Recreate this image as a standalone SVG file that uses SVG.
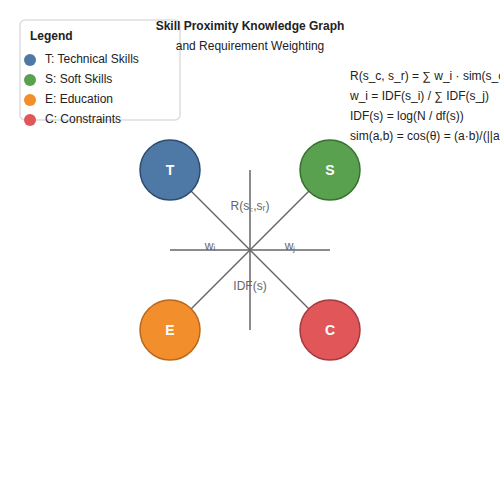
<svg xmlns="http://www.w3.org/2000/svg" width="500" height="500" viewBox="0 0 500 500">
<style>
text{font-family:"Liberation Sans",Arial,sans-serif;font-size:12px;fill:#222}
.t{font-weight:bold}
.lbl{fill:#666;text-anchor:middle}
.edge{stroke:#666;stroke-width:1.5;fill:none}
.nl{fill:#fff;font-weight:bold;font-size:14px;text-anchor:middle}
</style>
<rect width="500" height="500" fill="#fff"/>
<g id="legend">
<rect x="20" y="20" width="160" height="100" rx="5" fill="#fff" stroke="#ddd" stroke-width="1.5"/>
<text x="30" y="40" class="t">Legend</text>
<circle cx="30" cy="60" r="6" fill="#4e79a7"/><text x="45" y="63">T: Technical Skills</text>
<circle cx="30" cy="80" r="6" fill="#59a14f"/><text x="45" y="83">S: Soft Skills</text>
<circle cx="30" cy="100" r="6" fill="#f28e2b"/><text x="45" y="103">E: Education</text>
<circle cx="30" cy="120" r="6" fill="#e15759"/><text x="45" y="123">C: Constraints</text>
</g>
<g id="title">
<text x="250" y="30" class="t" text-anchor="middle">Skill Proximity Knowledge Graph</text>
<text x="250" y="50" text-anchor="middle">and Requirement Weighting</text>
</g>
<g id="formulas">
<text x="350" y="80">R(s_c, s_r) = ∑ w_i · sim(s_c</text>
<text x="350" y="100">w_i = IDF(s_i) / ∑ IDF(s_j)</text>
<text x="350" y="120">IDF(s) = log(N / df(s))</text>
<text x="350" y="140">sim(a,b) = cos(θ) = (a·b)/(||a</text>
</g>
<g id="edge-labels">
<text x="250" y="210" class="lbl">R(s꜀,sᵣ)</text>
<text x="210" y="250" class="lbl">wᵢ</text>
<text x="290" y="250" class="lbl">wⱼ</text>
<text x="250" y="290" class="lbl">IDF(s)</text>
</g>
<g id="connectors">
<line class="edge" x1="250" y1="170" x2="250" y2="330"/>
<line class="edge" x1="170" y1="250" x2="330" y2="250"/>
<line class="edge" x1="170" y1="170" x2="250" y2="250"/>
<line class="edge" x1="330" y1="170" x2="250" y2="250"/>
<line class="edge" x1="170" y1="330" x2="250" y2="250"/>
<line class="edge" x1="330" y1="330" x2="250" y2="250"/>
</g>
<g id="node-T"><circle cx="170" cy="170" r="30" fill="#4e79a7" stroke="#2d4b6e" stroke-width="1.5"/><text x="170" y="175" class="nl">T</text></g>
<g id="node-S"><circle cx="330" cy="170" r="30" fill="#59a14f" stroke="#37702f" stroke-width="1.5"/><text x="330" y="175" class="nl">S</text></g>
<g id="node-E"><circle cx="170" cy="330" r="30" fill="#f28e2b" stroke="#b8681c" stroke-width="1.5"/><text x="170" y="335" class="nl">E</text></g>
<g id="node-C"><circle cx="330" cy="330" r="30" fill="#e15759" stroke="#a33a3c" stroke-width="1.5"/><text x="330" y="335" class="nl">C</text></g>
</svg>
